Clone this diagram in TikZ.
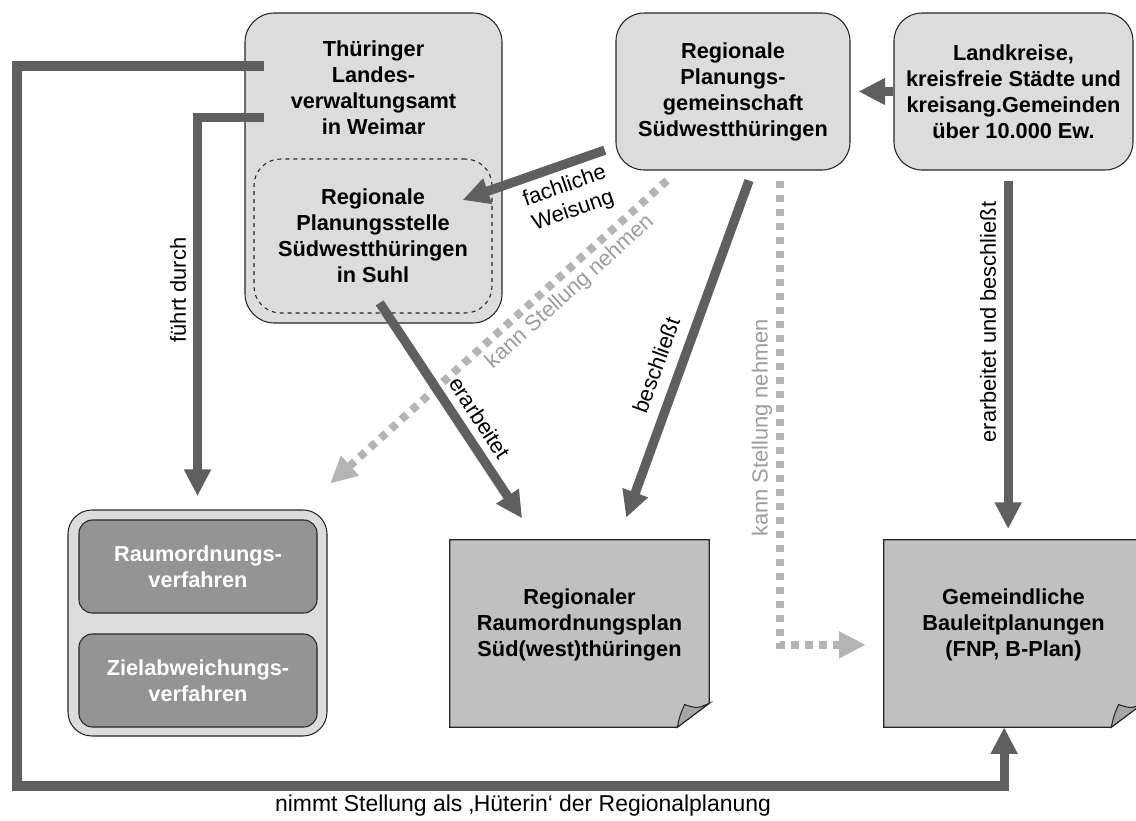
\documentclass[tikz,border=0pt]{standalone}
\usepackage{fontspec}
\setmainfont{Liberation Sans}
\usetikzlibrary{arrows.meta, positioning}

\definecolor{boxgray}{HTML}{DCDCDC}
\definecolor{docgray}{HTML}{C0C0C0}
\definecolor{flapgray}{HTML}{A6A6A6}
\definecolor{procgray}{HTML}{949494}
\definecolor{arrowgray}{HTML}{5F5F5F}
\definecolor{dotgray}{HTML}{B4B4B4}
\definecolor{notegray}{HTML}{9C9C9C}

\tikzset{
  boldtxt/.style={font=\fontsize{16.3pt}{19.5pt}\selectfont\bfseries, align=center, inner sep=0pt},
  lbl/.style={font=\fontsize{16.4pt}{19.5pt}\selectfont, inner sep=1pt},
  orgbox/.style={boldtxt, draw=black!85, line width=0.8pt, fill=boxgray, rounded corners=21pt},
  stellebox/.style={boldtxt, draw=black!85, line width=0.8pt, dashed, rounded corners=20pt},
  groupbox/.style={draw=black!85, line width=0.8pt, fill=boxgray, rounded corners=18pt, inner sep=0pt},
  procbox/.style={boldtxt, text=white, draw=black!85, line width=0.8pt, fill=procgray, rounded corners=10pt},
  docnode/.style={minimum width=194.25pt, minimum height=140.25pt, inner sep=0pt},
  docline/.style={draw=black!85, line width=0.8pt, fill=docgray},
  darrow/.style={draw=arrowgray, line width=7pt, -{Triangle[length=20pt,width=19pt]}},
  dotarrow/.style={draw=dotgray, line width=6pt, dash pattern=on 5.5pt off 5pt, -{Triangle[length=20pt,width=19pt]}}
}

\begin{document}
\begin{tikzpicture}[x=0.75pt, y=-0.75pt]
  \useasboundingbox (0,0) rectangle (1136,821);
  \clip (0,0) rectangle (1136,821);

  % Behoerden und Gremien
  \node[orgbox, minimum width=192.75pt, minimum height=232.5pt, rounded corners=22pt] (tlv) at (373.5,168) {};
  \node[boldtxt] (tlvtxt) at (373.5,88) {Thüringer\\Landes-\\verwaltungsamt\\in Weimar};
  \node[stellebox, minimum width=178.5pt, minimum height=115.5pt] (rps) at (373,236) {Regionale\\Planungsstelle\\Südwestthüringen\\in Suhl};
  \node[orgbox, minimum width=175.5pt, minimum height=117.75pt] (rpg) at (733,91.5) {Regionale\\Planungs-\\gemeinschaft\\Südwestthüringen};
  \node[orgbox, minimum width=179.25pt, minimum height=117.75pt] (lk) at (1013.5,91.5) {Landkreise,\\kreisfreie Städte und\\kreisang.Gemeinden\\über 10.000 Ew.};

  % Verfahren
  \node[groupbox, minimum width=194.25pt, minimum height=169.5pt] (verf) at (197.5,623) {};
  \node[procbox, minimum width=178.5pt, minimum height=69.75pt] (rov) at (198,566.5) {Raumordnungs-\\verfahren};
  \node[procbox, minimum width=178.5pt, minimum height=69.75pt] (zav) at (198,680.5) {Zielabweichungs-\\verfahren};

  % Plaene
  \node[docnode] (rrop) at (579.5,633.5) {};
  \node[docnode] (gem) at (1013.5,633.5) {};
  \foreach \d in {rrop,gem} {
    \draw[docline] (\d.north west) -- (\d.north east) -- ([yshift=18pt]\d.south east)
      -- ([xshift=-24pt]\d.south east) -- (\d.south west) -- cycle;
    \draw[docline, fill=flapgray] ([xshift=-24pt]\d.south east)
      .. controls ([xshift=-22pt,yshift=9pt]\d.south east) .. ([xshift=-18.5pt,yshift=17pt]\d.south east)
      .. controls ([xshift=-9pt,yshift=14pt]\d.south east) .. ([yshift=18pt]\d.south east) -- cycle;
  }
  \node[boldtxt] (rroptxt) at ([yshift=6.5pt]rrop.center) {Regionaler\\Raumordnungsplan\\Süd(west)thüringen};
  \node[boldtxt] (gemtxt) at ([yshift=6.5pt]gem.center) {Gemeindliche\\Bauleitplanungen\\(FNP, B-Plan)};

  % Beziehungen
  \draw[darrow] (lk.west) -- ([xshift=6pt]rpg.east);
  \draw[darrow] ([xshift=-8pt,yshift=-44pt]rpg.west) -- ([xshift=-22.5pt,yshift=27pt]rps.east);
  \draw[dotarrow] ([xshift=-49.5pt,yshift=-7.5pt]rpg.south) -- ([xshift=2pt,yshift=19.5pt]verf.north east);
  \draw[darrow] ([xshift=5pt,yshift=8pt]rps.south) -- ([xshift=-43pt,yshift=16pt]rrop.north);
  \draw[darrow] ([xshift=12pt,yshift=-7.5pt]rpg.south) -- ([xshift=35pt,yshift=16.5pt]rrop.north);
  \draw[dotarrow] ([xshift=35pt,yshift=-7.5pt]rpg.south) |- ([xshift=-13.5pt,yshift=-8.5pt]gem.west);
  \draw[darrow] ([xshift=-4pt,yshift=-7.5pt]lk.south) -- ([xshift=-4pt,yshift=8pt]gem.north);
  \draw[darrow] ([xshift=15pt,yshift=38pt]tlv.west) -| ([yshift=10pt]verf.north);
  \coordinate (hbend) at (17,786);
  \draw[darrow] ([xshift=15pt,yshift=76.5pt]tlv.west) -| (hbend) -| ([xshift=-7pt]gem.south);

  % Beschriftungen
  \node[lbl, rotate=90] (fdlbl) at (178,290) {führt durch};
  \node[lbl, rotate=19, align=center] (fwlbl) at (569,199) {fachliche\\Weisung};
  \node[lbl, rotate=42, text=notegray] (ks1lbl) at (570,292) {kann Stellung nehmen};
  \node[lbl, rotate=-57] (erlbl) at (480,418) {erarbeitet};
  \node[lbl, rotate=70] (belbl) at (656,365) {beschließt};
  \node[lbl, rotate=90, text=notegray] (ks2lbl) at (762,428) {kann Stellung nehmen};
  \node[lbl, rotate=90] (eublbl) at (988,322) {erarbeitet und beschließt};
  \node[lbl, font=\fontsize{17.2pt}{19.5pt}\selectfont] (hlbl) at (523,806) {nimmt Stellung als ‚Hüterin‘ der Regionalplanung};
\end{tikzpicture}
\end{document}
